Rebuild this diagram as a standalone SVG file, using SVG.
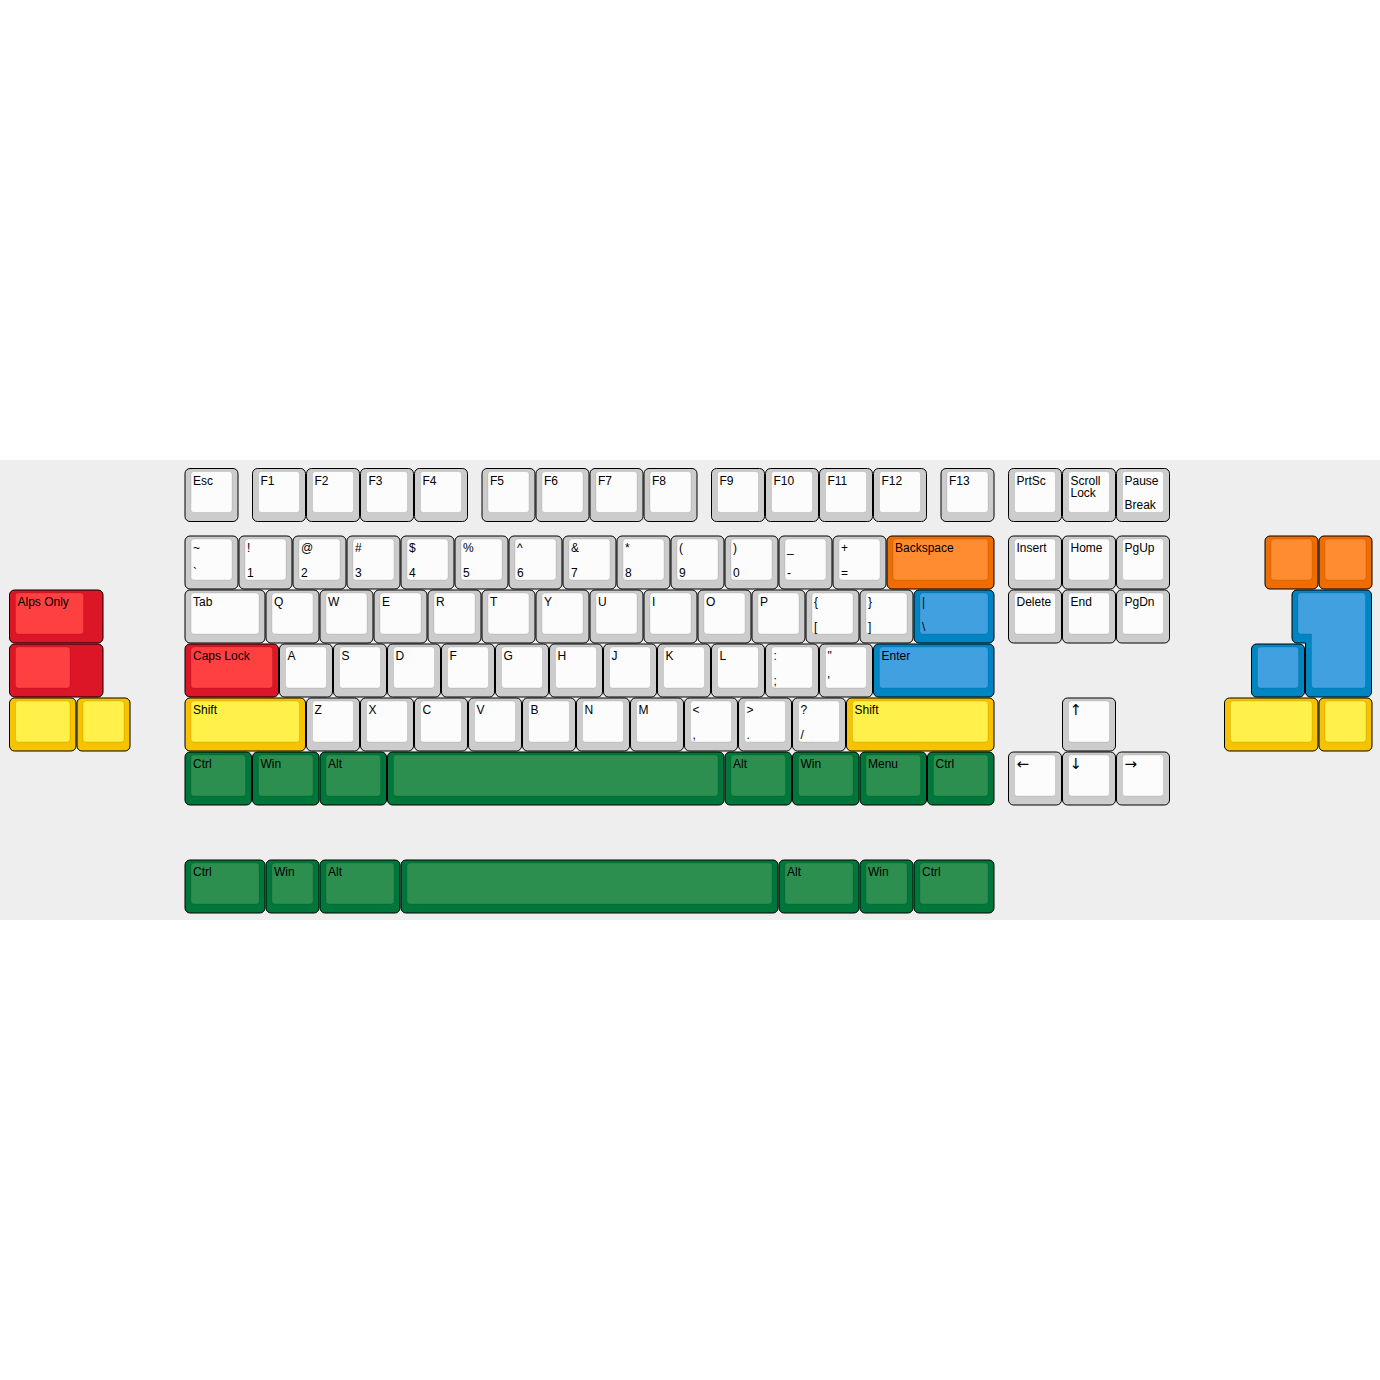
<svg xmlns="http://www.w3.org/2000/svg" width="1380" height="1380" viewBox="0 0 1380 1380">
<style>
.o{stroke:#000;stroke-width:1}
.i{stroke:rgba(0,0,0,0.1);stroke-width:1}
.g .o{fill:#cccccc}.g .i{fill:#fcfcfc}
.r .o{fill:#dc1527}.r .i{fill:#ff4040}
.y .o{fill:#f7c200}.y .i{fill:#fff04a}
.b .o{fill:#0085c3}.b .i{fill:#40a0e0}
.n .o{fill:#00773a}.n .i{fill:#2c8f4f}
.a .o{fill:#ee6c00}.a .i{fill:#ff8c30}
text{font-family:"Liberation Sans",Arial,sans-serif;font-size:12px;fill:#000}
text.ar{font-family:"DejaVu Sans",sans-serif;font-size:15px}
</style>
<rect width="1380" height="1380" fill="#ffffff"/>
<rect x="0" y="460" width="1380" height="460" fill="#eeeeee"/>

<!-- Row 0 -->
<g id="k-esc" class="g" transform="translate(185,468.5)"><rect class="o" width="53" height="53" rx="5"/><rect class="i" x="6" y="3" width="41" height="41" rx="3"/><text x="8" y="16">Esc</text></g>
<g id="k-f1" class="g" transform="translate(252.5,468.5)"><rect class="o" width="53" height="53" rx="5"/><rect class="i" x="6" y="3" width="41" height="41" rx="3"/><text x="8" y="16">F1</text></g>
<g id="k-f2" class="g" transform="translate(306.5,468.5)"><rect class="o" width="53" height="53" rx="5"/><rect class="i" x="6" y="3" width="41" height="41" rx="3"/><text x="8" y="16">F2</text></g>
<g id="k-f3" class="g" transform="translate(360.5,468.5)"><rect class="o" width="53" height="53" rx="5"/><rect class="i" x="6" y="3" width="41" height="41" rx="3"/><text x="8" y="16">F3</text></g>
<g id="k-f4" class="g" transform="translate(414.5,468.5)"><rect class="o" width="53" height="53" rx="5"/><rect class="i" x="6" y="3" width="41" height="41" rx="3"/><text x="8" y="16">F4</text></g>
<g id="k-f5" class="g" transform="translate(482,468.5)"><rect class="o" width="53" height="53" rx="5"/><rect class="i" x="6" y="3" width="41" height="41" rx="3"/><text x="8" y="16">F5</text></g>
<g id="k-f6" class="g" transform="translate(536,468.5)"><rect class="o" width="53" height="53" rx="5"/><rect class="i" x="6" y="3" width="41" height="41" rx="3"/><text x="8" y="16">F6</text></g>
<g id="k-f7" class="g" transform="translate(590,468.5)"><rect class="o" width="53" height="53" rx="5"/><rect class="i" x="6" y="3" width="41" height="41" rx="3"/><text x="8" y="16">F7</text></g>
<g id="k-f8" class="g" transform="translate(644,468.5)"><rect class="o" width="53" height="53" rx="5"/><rect class="i" x="6" y="3" width="41" height="41" rx="3"/><text x="8" y="16">F8</text></g>
<g id="k-f9" class="g" transform="translate(711.5,468.5)"><rect class="o" width="53" height="53" rx="5"/><rect class="i" x="6" y="3" width="41" height="41" rx="3"/><text x="8" y="16">F9</text></g>
<g id="k-f10" class="g" transform="translate(765.5,468.5)"><rect class="o" width="53" height="53" rx="5"/><rect class="i" x="6" y="3" width="41" height="41" rx="3"/><text x="8" y="16">F10</text></g>
<g id="k-f11" class="g" transform="translate(819.5,468.5)"><rect class="o" width="53" height="53" rx="5"/><rect class="i" x="6" y="3" width="41" height="41" rx="3"/><text x="8" y="16">F11</text></g>
<g id="k-f12" class="g" transform="translate(873.5,468.5)"><rect class="o" width="53" height="53" rx="5"/><rect class="i" x="6" y="3" width="41" height="41" rx="3"/><text x="8" y="16">F12</text></g>
<g id="k-f13" class="g" transform="translate(941,468.5)"><rect class="o" width="53" height="53" rx="5"/><rect class="i" x="6" y="3" width="41" height="41" rx="3"/><text x="8" y="16">F13</text></g>
<g id="k-prtsc" class="g" transform="translate(1008.5,468.5)"><rect class="o" width="53" height="53" rx="5"/><rect class="i" x="6" y="3" width="41" height="41" rx="3"/><text x="8" y="16">PrtSc</text></g>
<g id="k-scroll" class="g" transform="translate(1062.5,468.5)"><rect class="o" width="53" height="53" rx="5"/><rect class="i" x="6" y="3" width="41" height="41" rx="3"/><text x="8" y="16">Scroll</text><text x="8" y="28">Lock</text></g>
<g id="k-pause" class="g" transform="translate(1116.5,468.5)"><rect class="o" width="53" height="53" rx="5"/><rect class="i" x="6" y="3" width="41" height="41" rx="3"/><text x="8" y="16">Pause</text><text x="8" y="40">Break</text></g>

<!-- Row 1 -->
<g id="k-grave" class="g" transform="translate(185,536)"><rect class="o" width="53" height="53" rx="5"/><rect class="i" x="6" y="3" width="41" height="41" rx="3"/><text x="8" y="16">~</text><text x="8" y="41">`</text></g>
<g id="k-1" class="g" transform="translate(239,536)"><rect class="o" width="53" height="53" rx="5"/><rect class="i" x="6" y="3" width="41" height="41" rx="3"/><text x="8" y="16">!</text><text x="8" y="41">1</text></g>
<g id="k-2" class="g" transform="translate(293,536)"><rect class="o" width="53" height="53" rx="5"/><rect class="i" x="6" y="3" width="41" height="41" rx="3"/><text x="8" y="16">@</text><text x="8" y="41">2</text></g>
<g id="k-3" class="g" transform="translate(347,536)"><rect class="o" width="53" height="53" rx="5"/><rect class="i" x="6" y="3" width="41" height="41" rx="3"/><text x="8" y="16">#</text><text x="8" y="41">3</text></g>
<g id="k-4" class="g" transform="translate(401,536)"><rect class="o" width="53" height="53" rx="5"/><rect class="i" x="6" y="3" width="41" height="41" rx="3"/><text x="8" y="16">$</text><text x="8" y="41">4</text></g>
<g id="k-5" class="g" transform="translate(455,536)"><rect class="o" width="53" height="53" rx="5"/><rect class="i" x="6" y="3" width="41" height="41" rx="3"/><text x="8" y="16">%</text><text x="8" y="41">5</text></g>
<g id="k-6" class="g" transform="translate(509,536)"><rect class="o" width="53" height="53" rx="5"/><rect class="i" x="6" y="3" width="41" height="41" rx="3"/><text x="8" y="16">^</text><text x="8" y="41">6</text></g>
<g id="k-7" class="g" transform="translate(563,536)"><rect class="o" width="53" height="53" rx="5"/><rect class="i" x="6" y="3" width="41" height="41" rx="3"/><text x="8" y="16">&amp;</text><text x="8" y="41">7</text></g>
<g id="k-8" class="g" transform="translate(617,536)"><rect class="o" width="53" height="53" rx="5"/><rect class="i" x="6" y="3" width="41" height="41" rx="3"/><text x="8" y="16">*</text><text x="8" y="41">8</text></g>
<g id="k-9" class="g" transform="translate(671,536)"><rect class="o" width="53" height="53" rx="5"/><rect class="i" x="6" y="3" width="41" height="41" rx="3"/><text x="8" y="16">(</text><text x="8" y="41">9</text></g>
<g id="k-0" class="g" transform="translate(725,536)"><rect class="o" width="53" height="53" rx="5"/><rect class="i" x="6" y="3" width="41" height="41" rx="3"/><text x="8" y="16">)</text><text x="8" y="41">0</text></g>
<g id="k-minus" class="g" transform="translate(779,536)"><rect class="o" width="53" height="53" rx="5"/><rect class="i" x="6" y="3" width="41" height="41" rx="3"/><text x="8" y="16">_</text><text x="8" y="41">-</text></g>
<g id="k-equal" class="g" transform="translate(833,536)"><rect class="o" width="53" height="53" rx="5"/><rect class="i" x="6" y="3" width="41" height="41" rx="3"/><text x="8" y="16">+</text><text x="8" y="41">=</text></g>
<g id="k-backspace" class="a" transform="translate(887,536)"><rect class="o" width="107" height="53" rx="5"/><rect class="i" x="6" y="3" width="95" height="41" rx="3"/><text x="8" y="16">Backspace</text></g>
<g id="k-insert" class="g" transform="translate(1008.5,536)"><rect class="o" width="53" height="53" rx="5"/><rect class="i" x="6" y="3" width="41" height="41" rx="3"/><text x="8" y="16">Insert</text></g>
<g id="k-home" class="g" transform="translate(1062.5,536)"><rect class="o" width="53" height="53" rx="5"/><rect class="i" x="6" y="3" width="41" height="41" rx="3"/><text x="8" y="16">Home</text></g>
<g id="k-pgup" class="g" transform="translate(1116.5,536)"><rect class="o" width="53" height="53" rx="5"/><rect class="i" x="6" y="3" width="41" height="41" rx="3"/><text x="8" y="16">PgUp</text></g>
<g id="k-orange1" class="a" transform="translate(1265,536)"><rect class="o" width="53" height="53" rx="5"/><rect class="i" x="6" y="3" width="41" height="41" rx="3"/></g>
<g id="k-orange2" class="a" transform="translate(1319,536)"><rect class="o" width="53" height="53" rx="5"/><rect class="i" x="6" y="3" width="41" height="41" rx="3"/></g>

<!-- Row 2 -->
<g id="k-alps" class="r" transform="translate(9.5,590)"><rect class="o" width="93.5" height="53" rx="5"/><rect class="i" x="6" y="3" width="68" height="41" rx="3"/><text x="8" y="16">Alps Only</text></g>
<g id="k-tab" class="g" transform="translate(185,590)"><rect class="o" width="80" height="53" rx="5"/><rect class="i" x="6" y="3" width="68" height="41" rx="3"/><text x="8" y="16">Tab</text></g>
<g id="k-q" class="g" transform="translate(266,590)"><rect class="o" width="53" height="53" rx="5"/><rect class="i" x="6" y="3" width="41" height="41" rx="3"/><text x="8" y="16">Q</text></g>
<g id="k-w" class="g" transform="translate(320,590)"><rect class="o" width="53" height="53" rx="5"/><rect class="i" x="6" y="3" width="41" height="41" rx="3"/><text x="8" y="16">W</text></g>
<g id="k-e" class="g" transform="translate(374,590)"><rect class="o" width="53" height="53" rx="5"/><rect class="i" x="6" y="3" width="41" height="41" rx="3"/><text x="8" y="16">E</text></g>
<g id="k-r" class="g" transform="translate(428,590)"><rect class="o" width="53" height="53" rx="5"/><rect class="i" x="6" y="3" width="41" height="41" rx="3"/><text x="8" y="16">R</text></g>
<g id="k-t" class="g" transform="translate(482,590)"><rect class="o" width="53" height="53" rx="5"/><rect class="i" x="6" y="3" width="41" height="41" rx="3"/><text x="8" y="16">T</text></g>
<g id="k-y" class="g" transform="translate(536,590)"><rect class="o" width="53" height="53" rx="5"/><rect class="i" x="6" y="3" width="41" height="41" rx="3"/><text x="8" y="16">Y</text></g>
<g id="k-u" class="g" transform="translate(590,590)"><rect class="o" width="53" height="53" rx="5"/><rect class="i" x="6" y="3" width="41" height="41" rx="3"/><text x="8" y="16">U</text></g>
<g id="k-i" class="g" transform="translate(644,590)"><rect class="o" width="53" height="53" rx="5"/><rect class="i" x="6" y="3" width="41" height="41" rx="3"/><text x="8" y="16">I</text></g>
<g id="k-o" class="g" transform="translate(698,590)"><rect class="o" width="53" height="53" rx="5"/><rect class="i" x="6" y="3" width="41" height="41" rx="3"/><text x="8" y="16">O</text></g>
<g id="k-p" class="g" transform="translate(752,590)"><rect class="o" width="53" height="53" rx="5"/><rect class="i" x="6" y="3" width="41" height="41" rx="3"/><text x="8" y="16">P</text></g>
<g id="k-lbracket" class="g" transform="translate(806,590)"><rect class="o" width="53" height="53" rx="5"/><rect class="i" x="6" y="3" width="41" height="41" rx="3"/><text x="8" y="16">{</text><text x="8" y="41">[</text></g>
<g id="k-rbracket" class="g" transform="translate(860,590)"><rect class="o" width="53" height="53" rx="5"/><rect class="i" x="6" y="3" width="41" height="41" rx="3"/><text x="8" y="16">}</text><text x="8" y="41">]</text></g>
<g id="k-backslash" class="b" transform="translate(914,590)"><rect class="o" width="80" height="53" rx="5"/><rect class="i" x="6" y="3" width="68" height="41" rx="3"/><text x="8" y="16">|</text><text x="8" y="41">\</text></g>
<g id="k-delete" class="g" transform="translate(1008.5,590)"><rect class="o" width="53" height="53" rx="5"/><rect class="i" x="6" y="3" width="41" height="41" rx="3"/><text x="8" y="16">Delete</text></g>
<g id="k-end" class="g" transform="translate(1062.5,590)"><rect class="o" width="53" height="53" rx="5"/><rect class="i" x="6" y="3" width="41" height="41" rx="3"/><text x="8" y="16">End</text></g>
<g id="k-pgdn" class="g" transform="translate(1116.5,590)"><rect class="o" width="53" height="53" rx="5"/><rect class="i" x="6" y="3" width="41" height="41" rx="3"/><text x="8" y="16">PgDn</text></g>
<g id="k-isoenter" class="b"><path class="o" d="M1297,590 H1366.5 A5,5 0 0 1 1371.5,595 V692 A5,5 0 0 1 1366.5,697 H1310.5 A5,5 0 0 1 1305.5,692 V643 H1297 A5,5 0 0 1 1292,638 V595 A5,5 0 0 1 1297,590 Z"/><path class="i" d="M1301,593 H1362.5 A3,3 0 0 1 1365.5,596 V685 A3,3 0 0 1 1362.5,688 H1314.5 A3,3 0 0 1 1311.5,685 V634 H1301 A3,3 0 0 1 1298,631 V596 A3,3 0 0 1 1301,593 Z"/></g>

<!-- Row 3 -->
<g id="k-stepped" class="r" transform="translate(9.5,644)"><rect class="o" width="93.5" height="53" rx="5"/><rect class="i" x="6" y="3" width="54.5" height="41" rx="3"/></g>
<g id="k-caps" class="r" transform="translate(185,644)"><rect class="o" width="93.5" height="53" rx="5"/><rect class="i" x="6" y="3" width="81.5" height="41" rx="3"/><text x="8" y="16">Caps Lock</text></g>
<g id="k-a" class="g" transform="translate(279.5,644)"><rect class="o" width="53" height="53" rx="5"/><rect class="i" x="6" y="3" width="41" height="41" rx="3"/><text x="8" y="16">A</text></g>
<g id="k-s" class="g" transform="translate(333.5,644)"><rect class="o" width="53" height="53" rx="5"/><rect class="i" x="6" y="3" width="41" height="41" rx="3"/><text x="8" y="16">S</text></g>
<g id="k-d" class="g" transform="translate(387.5,644)"><rect class="o" width="53" height="53" rx="5"/><rect class="i" x="6" y="3" width="41" height="41" rx="3"/><text x="8" y="16">D</text></g>
<g id="k-f" class="g" transform="translate(441.5,644)"><rect class="o" width="53" height="53" rx="5"/><rect class="i" x="6" y="3" width="41" height="41" rx="3"/><text x="8" y="16">F</text></g>
<g id="k-g" class="g" transform="translate(495.5,644)"><rect class="o" width="53" height="53" rx="5"/><rect class="i" x="6" y="3" width="41" height="41" rx="3"/><text x="8" y="16">G</text></g>
<g id="k-h" class="g" transform="translate(549.5,644)"><rect class="o" width="53" height="53" rx="5"/><rect class="i" x="6" y="3" width="41" height="41" rx="3"/><text x="8" y="16">H</text></g>
<g id="k-j" class="g" transform="translate(603.5,644)"><rect class="o" width="53" height="53" rx="5"/><rect class="i" x="6" y="3" width="41" height="41" rx="3"/><text x="8" y="16">J</text></g>
<g id="k-k" class="g" transform="translate(657.5,644)"><rect class="o" width="53" height="53" rx="5"/><rect class="i" x="6" y="3" width="41" height="41" rx="3"/><text x="8" y="16">K</text></g>
<g id="k-l" class="g" transform="translate(711.5,644)"><rect class="o" width="53" height="53" rx="5"/><rect class="i" x="6" y="3" width="41" height="41" rx="3"/><text x="8" y="16">L</text></g>
<g id="k-semicolon" class="g" transform="translate(765.5,644)"><rect class="o" width="53" height="53" rx="5"/><rect class="i" x="6" y="3" width="41" height="41" rx="3"/><text x="8" y="16">:</text><text x="8" y="41">;</text></g>
<g id="k-quote" class="g" transform="translate(819.5,644)"><rect class="o" width="53" height="53" rx="5"/><rect class="i" x="6" y="3" width="41" height="41" rx="3"/><text x="8" y="16">"</text><text x="8" y="41">'</text></g>
<g id="k-enter" class="b" transform="translate(873.5,644)"><rect class="o" width="120.5" height="53" rx="5"/><rect class="i" x="6" y="3" width="108.5" height="41" rx="3"/><text x="8" y="16">Enter</text></g>
<g id="k-blue1" class="b" transform="translate(1251.5,644)"><rect class="o" width="53" height="53" rx="5"/><rect class="i" x="6" y="3" width="41" height="41" rx="3"/></g>

<!-- Row 4 -->
<g id="k-yellow-l1" class="y" transform="translate(9.5,698)"><rect class="o" width="66.5" height="53" rx="5"/><rect class="i" x="6" y="3" width="54.5" height="41" rx="3"/></g>
<g id="k-yellow-l2" class="y" transform="translate(77,698)"><rect class="o" width="53" height="53" rx="5"/><rect class="i" x="6" y="3" width="41" height="41" rx="3"/></g>
<g id="k-lshift" class="y" transform="translate(185,698)"><rect class="o" width="120.5" height="53" rx="5"/><rect class="i" x="6" y="3" width="108.5" height="41" rx="3"/><text x="8" y="16">Shift</text></g>
<g id="k-z" class="g" transform="translate(306.5,698)"><rect class="o" width="53" height="53" rx="5"/><rect class="i" x="6" y="3" width="41" height="41" rx="3"/><text x="8" y="16">Z</text></g>
<g id="k-x" class="g" transform="translate(360.5,698)"><rect class="o" width="53" height="53" rx="5"/><rect class="i" x="6" y="3" width="41" height="41" rx="3"/><text x="8" y="16">X</text></g>
<g id="k-c" class="g" transform="translate(414.5,698)"><rect class="o" width="53" height="53" rx="5"/><rect class="i" x="6" y="3" width="41" height="41" rx="3"/><text x="8" y="16">C</text></g>
<g id="k-v" class="g" transform="translate(468.5,698)"><rect class="o" width="53" height="53" rx="5"/><rect class="i" x="6" y="3" width="41" height="41" rx="3"/><text x="8" y="16">V</text></g>
<g id="k-b" class="g" transform="translate(522.5,698)"><rect class="o" width="53" height="53" rx="5"/><rect class="i" x="6" y="3" width="41" height="41" rx="3"/><text x="8" y="16">B</text></g>
<g id="k-n" class="g" transform="translate(576.5,698)"><rect class="o" width="53" height="53" rx="5"/><rect class="i" x="6" y="3" width="41" height="41" rx="3"/><text x="8" y="16">N</text></g>
<g id="k-m" class="g" transform="translate(630.5,698)"><rect class="o" width="53" height="53" rx="5"/><rect class="i" x="6" y="3" width="41" height="41" rx="3"/><text x="8" y="16">M</text></g>
<g id="k-comma" class="g" transform="translate(684.5,698)"><rect class="o" width="53" height="53" rx="5"/><rect class="i" x="6" y="3" width="41" height="41" rx="3"/><text x="8" y="16">&lt;</text><text x="8" y="41">,</text></g>
<g id="k-period" class="g" transform="translate(738.5,698)"><rect class="o" width="53" height="53" rx="5"/><rect class="i" x="6" y="3" width="41" height="41" rx="3"/><text x="8" y="16">&gt;</text><text x="8" y="41">.</text></g>
<g id="k-slash" class="g" transform="translate(792.5,698)"><rect class="o" width="53" height="53" rx="5"/><rect class="i" x="6" y="3" width="41" height="41" rx="3"/><text x="8" y="16">?</text><text x="8" y="41">/</text></g>
<g id="k-rshift" class="y" transform="translate(846.5,698)"><rect class="o" width="147.5" height="53" rx="5"/><rect class="i" x="6" y="3" width="135.5" height="41" rx="3"/><text x="8" y="16">Shift</text></g>
<g id="k-up" class="g" transform="translate(1062.5,698)"><rect class="o" width="53" height="53" rx="5"/><rect class="i" x="6" y="3" width="41" height="41" rx="3"/><text class="ar" x="7" y="17">↑</text></g>
<g id="k-yellow-r1" class="y" transform="translate(1224.5,698)"><rect class="o" width="93.5" height="53" rx="5"/><rect class="i" x="6" y="3" width="81.5" height="41" rx="3"/></g>
<g id="k-yellow-r2" class="y" transform="translate(1319,698)"><rect class="o" width="53" height="53" rx="5"/><rect class="i" x="6" y="3" width="41" height="41" rx="3"/></g>

<!-- Row 5 -->
<g id="k-lctrl" class="n" transform="translate(185,752)"><rect class="o" width="66.5" height="53" rx="5"/><rect class="i" x="6" y="3" width="54.5" height="41" rx="3"/><text x="8" y="16">Ctrl</text></g>
<g id="k-lwin" class="n" transform="translate(252.5,752)"><rect class="o" width="66.5" height="53" rx="5"/><rect class="i" x="6" y="3" width="54.5" height="41" rx="3"/><text x="8" y="16">Win</text></g>
<g id="k-lalt" class="n" transform="translate(320,752)"><rect class="o" width="66.5" height="53" rx="5"/><rect class="i" x="6" y="3" width="54.5" height="41" rx="3"/><text x="8" y="16">Alt</text></g>
<g id="k-space" class="n" transform="translate(387.5,752)"><rect class="o" width="336.5" height="53" rx="5"/><rect class="i" x="6" y="3" width="324.5" height="41" rx="3"/></g>
<g id="k-ralt" class="n" transform="translate(725,752)"><rect class="o" width="66.5" height="53" rx="5"/><rect class="i" x="6" y="3" width="54.5" height="41" rx="3"/><text x="8" y="16">Alt</text></g>
<g id="k-rwin" class="n" transform="translate(792.5,752)"><rect class="o" width="66.5" height="53" rx="5"/><rect class="i" x="6" y="3" width="54.5" height="41" rx="3"/><text x="8" y="16">Win</text></g>
<g id="k-menu" class="n" transform="translate(860,752)"><rect class="o" width="66.5" height="53" rx="5"/><rect class="i" x="6" y="3" width="54.5" height="41" rx="3"/><text x="8" y="16">Menu</text></g>
<g id="k-rctrl" class="n" transform="translate(927.5,752)"><rect class="o" width="66.5" height="53" rx="5"/><rect class="i" x="6" y="3" width="54.5" height="41" rx="3"/><text x="8" y="16">Ctrl</text></g>
<g id="k-left" class="g" transform="translate(1008.5,752)"><rect class="o" width="53" height="53" rx="5"/><rect class="i" x="6" y="3" width="41" height="41" rx="3"/><text class="ar" x="8" y="17">←</text></g>
<g id="k-down" class="g" transform="translate(1062.5,752)"><rect class="o" width="53" height="53" rx="5"/><rect class="i" x="6" y="3" width="41" height="41" rx="3"/><text class="ar" x="7" y="17">↓</text></g>
<g id="k-right" class="g" transform="translate(1116.5,752)"><rect class="o" width="53" height="53" rx="5"/><rect class="i" x="6" y="3" width="41" height="41" rx="3"/><text class="ar" x="8" y="17">→</text></g>

<!-- Alternate bottom row -->
<g id="k2-lctrl" class="n" transform="translate(185,860)"><rect class="o" width="80" height="53" rx="5"/><rect class="i" x="6" y="3" width="68" height="41" rx="3"/><text x="8" y="16">Ctrl</text></g>
<g id="k2-lwin" class="n" transform="translate(266,860)"><rect class="o" width="53" height="53" rx="5"/><rect class="i" x="6" y="3" width="41" height="41" rx="3"/><text x="8" y="16">Win</text></g>
<g id="k2-lalt" class="n" transform="translate(320,860)"><rect class="o" width="80" height="53" rx="5"/><rect class="i" x="6" y="3" width="68" height="41" rx="3"/><text x="8" y="16">Alt</text></g>
<g id="k2-space" class="n" transform="translate(401,860)"><rect class="o" width="377" height="53" rx="5"/><rect class="i" x="6" y="3" width="365" height="41" rx="3"/></g>
<g id="k2-ralt" class="n" transform="translate(779,860)"><rect class="o" width="80" height="53" rx="5"/><rect class="i" x="6" y="3" width="68" height="41" rx="3"/><text x="8" y="16">Alt</text></g>
<g id="k2-rwin" class="n" transform="translate(860,860)"><rect class="o" width="53" height="53" rx="5"/><rect class="i" x="6" y="3" width="41" height="41" rx="3"/><text x="8" y="16">Win</text></g>
<g id="k2-rctrl" class="n" transform="translate(914,860)"><rect class="o" width="80" height="53" rx="5"/><rect class="i" x="6" y="3" width="68" height="41" rx="3"/><text x="8" y="16">Ctrl</text></g>
</svg>
